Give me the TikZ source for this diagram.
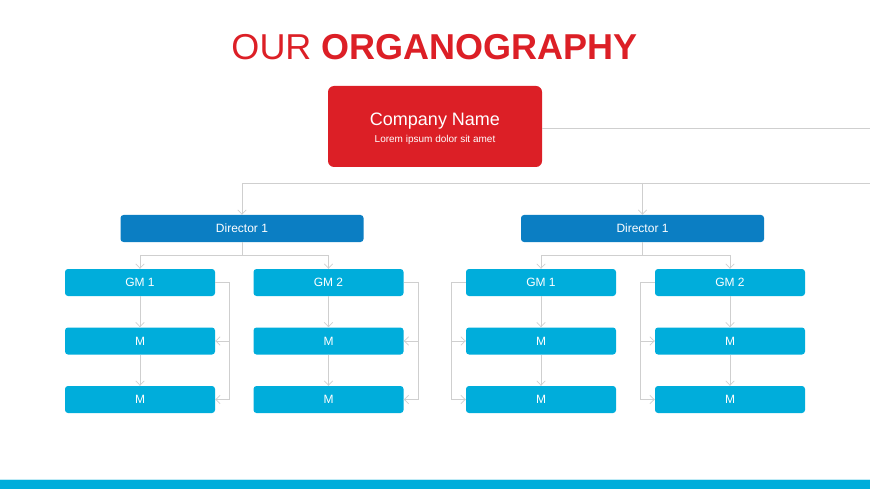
\documentclass[tikz,border=0pt]{standalone}
\usepackage{fontspec}
\setmainfont{Liberation Sans}
\usetikzlibrary{arrows.meta}
\definecolor{orgred}{HTML}{DC1F26}
\definecolor{orgdark}{HTML}{0B7EC3}
\definecolor{orgcyan}{HTML}{00ADDB}
\definecolor{orgline}{HTML}{CFCFCF}

\begin{document}
\begin{tikzpicture}[x=1pt,y=-1pt]
\def \rowa {282.5}
\def \rowb {341}
\def \rowc {399.5}
   \tikzset{HeadStyle/.style = {rectangle, rounded corners = 6pt, fill = orgred, text = white,
              minimum width = 214pt, minimum height = 81pt, inner sep = 0pt}}
   \tikzset{DirStyle/.style = {rectangle, rounded corners = 3pt, fill = orgdark, text = white,
              minimum width = 243pt, minimum height = 27pt, inner sep = 0pt, font = \fontsize{12}{14}\selectfont}}
   \tikzset{UnitStyle/.style = {rectangle, rounded corners = 3pt, fill = orgcyan, text = white,
              minimum width = 150pt, minimum height = 27pt, inner sep = 0pt, font = \fontsize{12}{14}\selectfont}}
   \tikzset{LinkStyle/.style = {draw = orgline, line width = 0.7pt}}
   \tikzset{ArrowStyle/.style = {LinkStyle, -{Straight Barb[length = 4.5pt, width = 8.5pt]}}}

   \useasboundingbox (0,0) rectangle (870,489);
   \fill[orgcyan] (0,480) rectangle (870,489);
   \draw[orgcyan!25, line width = 0.8pt] (0,479.5) -- (870,479.5);

   \node[text = orgred, font = \fontsize{36}{40}\selectfont] (title) at (434.5,47) {OUR \textbf{ORGANOGRAPHY}};

   \node[HeadStyle] (Comp) at (435,126.5) {};
   \node[text = white, align = center, inner sep = 0pt] (CompText) at (435,129)
        {{\fontsize{18}{20}\selectfont Company Name}\\[5pt]
         {\fontsize{10}{12}\selectfont Lorem ipsum dolor sit amet}};
   \coordinate (EdgeA) at (870,128);
   \coordinate (EdgeB) at (870,183);

   \node[DirStyle] (Dir1) at (242,228.5) {Director 1};
   \node[DirStyle] (Dir2) at (642.5,228.5) {Director 1};

   % left director
   \node[UnitStyle] (G1) at (140,\rowa) {GM 1};
   \node[UnitStyle] (M1a) at (140,\rowb) {M};
   \node[UnitStyle] (M1b) at (140,\rowc) {M};
   \node[UnitStyle] (G2) at (328.5,\rowa) {GM 2};
   \node[UnitStyle] (M2a) at (328.5,\rowb) {M};
   \node[UnitStyle] (M2b) at (328.5,\rowc) {M};
   % right director
   \node[UnitStyle] (G3) at (541,\rowa) {GM 1};
   \node[UnitStyle] (M3a) at (541,\rowb) {M};
   \node[UnitStyle] (M3b) at (541,\rowc) {M};
   \node[UnitStyle] (G4) at (730,\rowa) {GM 2};
   \node[UnitStyle] (M4a) at (730,\rowb) {M};
   \node[UnitStyle] (M4b) at (730,\rowc) {M};

   \draw[LinkStyle] (Comp.east |- EdgeA) -- (EdgeA);
   \draw[ArrowStyle] (EdgeB) -| (Dir1.north);
   \draw[ArrowStyle] (Dir2.north |- EdgeB) -- (Dir2.north);

   \draw[LinkStyle] (Dir1.south) -- ++(0,13.5) coordinate (J1);
   \draw[ArrowStyle] (J1) -| (G1.north);
   \draw[ArrowStyle] (J1) -| (G2.north);
   \draw[LinkStyle] (Dir2.south) -- ++(0,13.5) coordinate (J2);
   \draw[ArrowStyle] (J2) -| (G3.north);
   \draw[ArrowStyle] (J2) -| (G4.north);

   \draw[ArrowStyle] (G1) -- (M1a);
   \draw[ArrowStyle] (M1a) -- (M1b);
   \draw[ArrowStyle] (G2) -- (M2a);
   \draw[ArrowStyle] (M2a) -- (M2b);
   \draw[ArrowStyle] (G3) -- (M3a);
   \draw[ArrowStyle] (M3a) -- (M3b);
   \draw[ArrowStyle] (G4) -- (M4a);
   \draw[ArrowStyle] (M4a) -- (M4b);

   % side brackets
   \draw[ArrowStyle] (G1.east) -- ++(14,0) coordinate (S1) |- (M1b.east);
   \draw[ArrowStyle] (S1 |- M1a) -- (M1a.east);
   \draw[ArrowStyle] (G2.east) -- ++(15,0) coordinate (S2) |- (M2b.east);
   \draw[ArrowStyle] (S2 |- M2a) -- (M2a.east);
   \draw[ArrowStyle] (G3.west) -- ++(-14,0) coordinate (S3) |- (M3b.west);
   \draw[ArrowStyle] (S3 |- M3a) -- (M3a.west);
   \draw[ArrowStyle] (G4.west) -- ++(-14,0) coordinate (S4) |- (M4b.west);
   \draw[ArrowStyle] (S4 |- M4a) -- (M4a.west);

\end{tikzpicture}
\end{document}
